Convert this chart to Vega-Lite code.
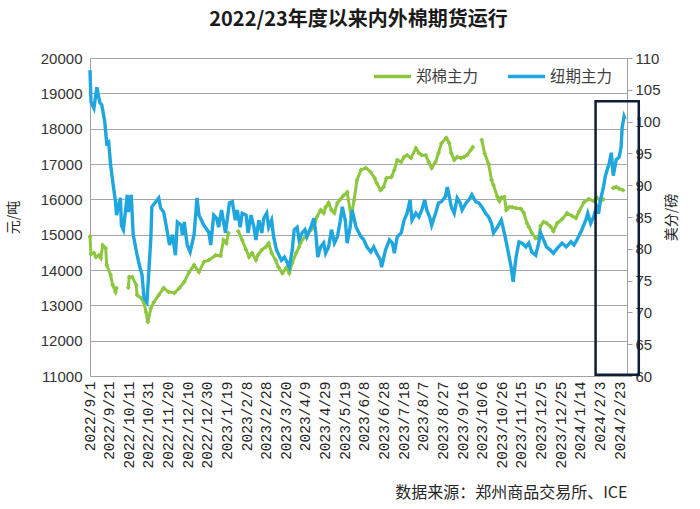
{
  "$schema": "https://vega.github.io/schema/vega-lite/v6.json",
  "width": 537,
  "height": 318,
  "autosize": {"type": "none"},
  "padding": {"left": 90, "top": 58, "right": 73, "bottom": 133},
  "background": "white",
  "title": {"text": "2022/23年度以来内外棉期货运行", "font": "Noto Sans CJK SC", "fontSize": 20, "fontWeight": "bold", "color": "#1a1a1a", "anchor": "middle", "offset": 21},
  "config": {"view": {"stroke": null}, "font": "Noto Sans CJK SC"},
  "datasets": {
    "zc": [
      {"date": "2022-09-01", "price": 14950}, {"date": "2022-09-02", "price": 14450}, {"date": "2022-09-05", "price": 14480}, {"date": "2022-09-07", "price": 14370},
      {"date": "2022-09-10", "price": 14420}, {"date": "2022-09-12", "price": 14340}, {"date": "2022-09-14", "price": 14700}, {"date": "2022-09-17", "price": 14620},
      {"date": "2022-09-18", "price": 14140}, {"date": "2022-09-22", "price": 13860}, {"date": "2022-09-24", "price": 13580}, {"date": "2022-09-27", "price": 13380},
      {"date": "2022-09-28", "price": 13490}, {"date": "2022-10-04", "price": null}, {"date": "2022-10-10", "price": 13500}, {"date": "2022-10-11", "price": 13800},
      {"date": "2022-10-14", "price": 13800}, {"date": "2022-10-18", "price": 13580}, {"date": "2022-10-19", "price": 13290}, {"date": "2022-10-23", "price": 13210},
      {"date": "2022-10-26", "price": 13070}, {"date": "2022-10-28", "price": 12810}, {"date": "2022-10-30", "price": 12530}, {"date": "2022-11-02", "price": 12920},
      {"date": "2022-11-05", "price": 13090}, {"date": "2022-11-10", "price": 13290}, {"date": "2022-11-15", "price": 13490}, {"date": "2022-11-20", "price": 13380},
      {"date": "2022-11-26", "price": 13350}, {"date": "2022-12-01", "price": 13490}, {"date": "2022-12-06", "price": 13660}, {"date": "2022-12-11", "price": 13940},
      {"date": "2022-12-16", "price": 14140}, {"date": "2022-12-21", "price": 13940}, {"date": "2022-12-26", "price": 14230}, {"date": "2022-12-31", "price": 14280},
      {"date": "2023-01-07", "price": 14420}, {"date": "2023-01-12", "price": 14400}, {"date": "2023-01-15", "price": 14850}, {"date": "2023-01-18", "price": 14760},
      {"date": "2023-01-20", "price": 15050}, {"date": "2023-01-25", "price": null}, {"date": "2023-01-30", "price": 15100}, {"date": "2023-02-03", "price": 14850},
      {"date": "2023-02-07", "price": 14570}, {"date": "2023-02-10", "price": 14370}, {"date": "2023-02-13", "price": 14480}, {"date": "2023-02-17", "price": 14280},
      {"date": "2023-02-19", "price": 14420}, {"date": "2023-02-23", "price": 14570}, {"date": "2023-02-27", "price": 14650}, {"date": "2023-03-02", "price": 14760},
      {"date": "2023-03-05", "price": 14480}, {"date": "2023-03-09", "price": 14280}, {"date": "2023-03-12", "price": 14080}, {"date": "2023-03-16", "price": 13910},
      {"date": "2023-03-20", "price": 14060}, {"date": "2023-03-23", "price": 13910}, {"date": "2023-03-26", "price": 14200}, {"date": "2023-03-30", "price": 14480},
      {"date": "2023-04-02", "price": 14650}, {"date": "2023-04-05", "price": 14850}, {"date": "2023-04-08", "price": 14930}, {"date": "2023-04-11", "price": 15050},
      {"date": "2023-04-14", "price": 15130}, {"date": "2023-04-17", "price": 15220}, {"date": "2023-04-20", "price": 15500}, {"date": "2023-04-24", "price": 15700},
      {"date": "2023-04-27", "price": 15610}, {"date": "2023-04-29", "price": 15780}, {"date": "2023-05-02", "price": 15900}, {"date": "2023-05-05", "price": 15700},
      {"date": "2023-05-08", "price": 15610}, {"date": "2023-05-11", "price": 15900}, {"date": "2023-05-14", "price": 16000}, {"date": "2023-05-17", "price": 16100},
      {"date": "2023-05-21", "price": 16200}, {"date": "2023-05-25", "price": 15500}, {"date": "2023-05-28", "price": 15980}, {"date": "2023-05-31", "price": 16550},
      {"date": "2023-06-04", "price": 16830}, {"date": "2023-06-09", "price": 16890}, {"date": "2023-06-14", "price": 16770}, {"date": "2023-06-18", "price": 16600},
      {"date": "2023-06-20", "price": 16460}, {"date": "2023-06-24", "price": 16260}, {"date": "2023-06-27", "price": 16350}, {"date": "2023-06-30", "price": 16600},
      {"date": "2023-07-05", "price": 16630}, {"date": "2023-07-08", "price": 16830}, {"date": "2023-07-11", "price": 17110}, {"date": "2023-07-15", "price": 17060},
      {"date": "2023-07-18", "price": 17200}, {"date": "2023-07-21", "price": 17250}, {"date": "2023-07-25", "price": 17170}, {"date": "2023-07-30", "price": 17450},
      {"date": "2023-08-02", "price": 17310}, {"date": "2023-08-05", "price": 17250}, {"date": "2023-08-09", "price": 17250}, {"date": "2023-08-12", "price": 17060},
      {"date": "2023-08-15", "price": 16890}, {"date": "2023-08-19", "price": 17060}, {"date": "2023-08-22", "price": 17310}, {"date": "2023-08-25", "price": 17590},
      {"date": "2023-08-30", "price": 17740}, {"date": "2023-09-02", "price": 17590}, {"date": "2023-09-04", "price": 17310}, {"date": "2023-09-07", "price": 17110},
      {"date": "2023-09-10", "price": 17200}, {"date": "2023-09-14", "price": 17170}, {"date": "2023-09-17", "price": 17200}, {"date": "2023-09-20", "price": 17250},
      {"date": "2023-09-24", "price": 17400}, {"date": "2023-09-26", "price": 17480}, {"date": "2023-09-30", "price": null}, {"date": "2023-10-05", "price": 17680},
      {"date": "2023-10-08", "price": 17300}, {"date": "2023-10-12", "price": 17000}, {"date": "2023-10-15", "price": 16550}, {"date": "2023-10-17", "price": 16400},
      {"date": "2023-10-21", "price": 16070}, {"date": "2023-10-23", "price": 15950}, {"date": "2023-10-25", "price": 16050}, {"date": "2023-10-28", "price": 16070},
      {"date": "2023-10-30", "price": 15700}, {"date": "2023-11-02", "price": 15780}, {"date": "2023-11-05", "price": 15780}, {"date": "2023-11-09", "price": 15750},
      {"date": "2023-11-14", "price": 15730}, {"date": "2023-11-17", "price": 15610}, {"date": "2023-11-20", "price": 15330}, {"date": "2023-11-22", "price": 15220},
      {"date": "2023-11-25", "price": 15050}, {"date": "2023-11-29", "price": 14900}, {"date": "2023-12-02", "price": 14900}, {"date": "2023-12-04", "price": 15250},
      {"date": "2023-12-07", "price": 15360}, {"date": "2023-12-10", "price": 15330}, {"date": "2023-12-14", "price": 15230}, {"date": "2023-12-17", "price": 15100},
      {"date": "2023-12-21", "price": 15330}, {"date": "2023-12-26", "price": 15440}, {"date": "2023-12-31", "price": 15610}, {"date": "2024-01-05", "price": 15530},
      {"date": "2024-01-09", "price": 15470}, {"date": "2024-01-12", "price": 15650}, {"date": "2024-01-17", "price": 15910}, {"date": "2024-01-22", "price": 16010},
      {"date": "2024-01-27", "price": 15950}, {"date": "2024-01-30", "price": 16060}, {"date": "2024-02-03", "price": 15950}, {"date": "2024-02-06", "price": 16000},
      {"date": "2024-02-11", "price": null}, {"date": "2024-02-16", "price": 16320}, {"date": "2024-02-19", "price": 16350}, {"date": "2024-02-22", "price": 16300},
      {"date": "2024-02-26", "price": 16260}
    ],
    "ice": [
      {"date": "2022-09-01", "price": 108.1}, {"date": "2022-09-02", "price": 103.1}, {"date": "2022-09-05", "price": 102.1}, {"date": "2022-09-08", "price": 105.4},
      {"date": "2022-09-11", "price": 103.0}, {"date": "2022-09-13", "price": 102.6}, {"date": "2022-09-16", "price": 100.0}, {"date": "2022-09-18", "price": 96.6},
      {"date": "2022-09-20", "price": 96.8}, {"date": "2022-09-22", "price": 93.2}, {"date": "2022-09-25", "price": 89.6}, {"date": "2022-09-27", "price": 87.4},
      {"date": "2022-09-28", "price": 85.3}, {"date": "2022-10-02", "price": 88.0}, {"date": "2022-10-03", "price": 83.7}, {"date": "2022-10-05", "price": 83.0},
      {"date": "2022-10-09", "price": 88.5}, {"date": "2022-10-10", "price": 85.8}, {"date": "2022-10-13", "price": 88.5}, {"date": "2022-10-15", "price": 82.2},
      {"date": "2022-10-19", "price": 79.0}, {"date": "2022-10-22", "price": 77.0}, {"date": "2022-10-24", "price": 75.9}, {"date": "2022-10-26", "price": 72.3},
      {"date": "2022-10-29", "price": 71.6}, {"date": "2022-11-02", "price": 81.7}, {"date": "2022-11-03", "price": 86.6}, {"date": "2022-11-07", "price": 87.4},
      {"date": "2022-11-10", "price": 88.0}, {"date": "2022-11-12", "price": 86.4}, {"date": "2022-11-15", "price": 85.8}, {"date": "2022-11-18", "price": 83.3},
      {"date": "2022-11-21", "price": 80.6}, {"date": "2022-11-24", "price": 82.2}, {"date": "2022-11-27", "price": 79.0}, {"date": "2022-11-29", "price": 84.2},
      {"date": "2022-12-03", "price": 83.7}, {"date": "2022-12-04", "price": 82.2}, {"date": "2022-12-06", "price": 84.2}, {"date": "2022-12-09", "price": 80.6},
      {"date": "2022-12-12", "price": 79.5}, {"date": "2022-12-16", "price": 82.2}, {"date": "2022-12-19", "price": 88.0}, {"date": "2022-12-21", "price": 85.3},
      {"date": "2022-12-26", "price": 83.7}, {"date": "2022-12-31", "price": 82.6}, {"date": "2023-01-02", "price": 80.6}, {"date": "2023-01-05", "price": 85.3},
      {"date": "2023-01-08", "price": 84.8}, {"date": "2023-01-10", "price": 83.4}, {"date": "2023-01-13", "price": 86.1}, {"date": "2023-01-17", "price": 82.5},
      {"date": "2023-01-21", "price": 87.2}, {"date": "2023-01-24", "price": 87.4}, {"date": "2023-01-27", "price": 84.5}, {"date": "2023-01-29", "price": 86.1},
      {"date": "2023-02-01", "price": 83.4}, {"date": "2023-02-03", "price": 85.6}, {"date": "2023-02-07", "price": 85.3}, {"date": "2023-02-09", "price": 82.5},
      {"date": "2023-02-12", "price": 85.3}, {"date": "2023-02-15", "price": 83.4}, {"date": "2023-02-17", "price": 81.4}, {"date": "2023-02-20", "price": 84.5},
      {"date": "2023-02-23", "price": 82.5}, {"date": "2023-02-25", "price": 84.8}, {"date": "2023-02-28", "price": 85.6}, {"date": "2023-03-02", "price": 83.4},
      {"date": "2023-03-05", "price": 84.5}, {"date": "2023-03-07", "price": 81.9}, {"date": "2023-03-10", "price": 79.8}, {"date": "2023-03-15", "price": 78.2},
      {"date": "2023-03-18", "price": 78.7}, {"date": "2023-03-21", "price": 77.8}, {"date": "2023-03-23", "price": 77.1}, {"date": "2023-03-26", "price": 79.8},
      {"date": "2023-03-28", "price": 83.0}, {"date": "2023-03-31", "price": 83.4}, {"date": "2023-04-02", "price": 81.4}, {"date": "2023-04-05", "price": 82.5},
      {"date": "2023-04-08", "price": 83.0}, {"date": "2023-04-10", "price": 81.9}, {"date": "2023-04-14", "price": 83.4}, {"date": "2023-04-17", "price": 84.8},
      {"date": "2023-04-19", "price": 82.5}, {"date": "2023-04-21", "price": 78.7}, {"date": "2023-04-24", "price": 80.3}, {"date": "2023-04-27", "price": 80.9},
      {"date": "2023-04-29", "price": 79.3}, {"date": "2023-05-02", "price": 80.3}, {"date": "2023-05-05", "price": 83.0}, {"date": "2023-05-08", "price": 80.9},
      {"date": "2023-05-11", "price": 81.9}, {"date": "2023-05-14", "price": 84.5}, {"date": "2023-05-16", "price": 86.6}, {"date": "2023-05-19", "price": 84.5},
      {"date": "2023-05-21", "price": 80.9}, {"date": "2023-05-24", "price": 83.4}, {"date": "2023-05-26", "price": 86.1}, {"date": "2023-05-30", "price": 83.4},
      {"date": "2023-06-04", "price": 81.9}, {"date": "2023-06-07", "price": 81.4}, {"date": "2023-06-10", "price": 80.3}, {"date": "2023-06-14", "price": 79.5},
      {"date": "2023-06-17", "price": 80.3}, {"date": "2023-06-20", "price": 79.3}, {"date": "2023-06-24", "price": 78.2}, {"date": "2023-06-25", "price": 77.1},
      {"date": "2023-06-29", "price": 79.8}, {"date": "2023-07-03", "price": 81.4}, {"date": "2023-07-06", "price": 80.9}, {"date": "2023-07-08", "price": 79.3},
      {"date": "2023-07-11", "price": 81.9}, {"date": "2023-07-15", "price": 82.5}, {"date": "2023-07-18", "price": 84.5}, {"date": "2023-07-21", "price": 85.6},
      {"date": "2023-07-24", "price": 87.7}, {"date": "2023-07-26", "price": 84.5}, {"date": "2023-07-30", "price": 85.6}, {"date": "2023-08-02", "price": 85.0},
      {"date": "2023-08-05", "price": 86.1}, {"date": "2023-08-08", "price": 87.7}, {"date": "2023-08-10", "price": 86.1}, {"date": "2023-08-13", "price": 85.0},
      {"date": "2023-08-15", "price": 83.7}, {"date": "2023-08-19", "price": 85.6}, {"date": "2023-08-22", "price": 87.2}, {"date": "2023-08-25", "price": 87.4},
      {"date": "2023-08-29", "price": 88.2}, {"date": "2023-08-31", "price": 89.7}, {"date": "2023-09-02", "price": 88.2}, {"date": "2023-09-04", "price": 86.6},
      {"date": "2023-09-07", "price": 85.6}, {"date": "2023-09-10", "price": 88.0}, {"date": "2023-09-13", "price": 87.2}, {"date": "2023-09-15", "price": 86.1},
      {"date": "2023-09-19", "price": 87.2}, {"date": "2023-09-22", "price": 87.7}, {"date": "2023-09-25", "price": 88.5}, {"date": "2023-09-29", "price": 87.4},
      {"date": "2023-10-02", "price": 87.2}, {"date": "2023-10-05", "price": 86.6}, {"date": "2023-10-09", "price": 85.6}, {"date": "2023-10-12", "price": 85.0},
      {"date": "2023-10-15", "price": 84.0}, {"date": "2023-10-17", "price": 82.5}, {"date": "2023-10-21", "price": 83.4}, {"date": "2023-10-25", "price": 84.5},
      {"date": "2023-10-28", "price": 82.5}, {"date": "2023-10-31", "price": 80.3}, {"date": "2023-11-04", "price": 77.1}, {"date": "2023-11-06", "price": 74.8},
      {"date": "2023-11-09", "price": 78.7}, {"date": "2023-11-12", "price": 81.1}, {"date": "2023-11-15", "price": 80.9}, {"date": "2023-11-19", "price": 80.3},
      {"date": "2023-11-22", "price": 80.9}, {"date": "2023-11-25", "price": 79.5}, {"date": "2023-11-29", "price": 79.0}, {"date": "2023-12-02", "price": 80.9},
      {"date": "2023-12-04", "price": 82.5}, {"date": "2023-12-07", "price": 81.4}, {"date": "2023-12-10", "price": 80.3}, {"date": "2023-12-14", "price": 79.8},
      {"date": "2023-12-17", "price": 79.3}, {"date": "2023-12-21", "price": 80.1}, {"date": "2023-12-26", "price": 80.9}, {"date": "2023-12-30", "price": 80.3},
      {"date": "2024-01-04", "price": 81.1}, {"date": "2024-01-07", "price": 80.6}, {"date": "2024-01-10", "price": 81.4}, {"date": "2024-01-15", "price": 83.0},
      {"date": "2024-01-19", "price": 84.5}, {"date": "2024-01-21", "price": 85.6}, {"date": "2024-01-24", "price": 84.0}, {"date": "2024-01-27", "price": 85.0},
      {"date": "2024-01-30", "price": 86.6}, {"date": "2024-02-01", "price": 85.5}, {"date": "2024-02-03", "price": 87.7}, {"date": "2024-02-06", "price": 89.7},
      {"date": "2024-02-08", "price": 91.5}, {"date": "2024-02-12", "price": 93.5}, {"date": "2024-02-14", "price": 95.1}, {"date": "2024-02-16", "price": 91.5},
      {"date": "2024-02-19", "price": 94.0}, {"date": "2024-02-22", "price": 94.4}, {"date": "2024-02-24", "price": 96.0}, {"date": "2024-02-25", "price": 99.0},
      {"date": "2024-02-27", "price": 100.8}, {"date": "2024-02-28", "price": 100.4}
    ],
    "box": [
      {"date": "2024-01-29", "end": "2024-03-13", "low": 60.2, "high": 103.2}
    ]
  },
  "encoding": {
    "x": {
      "field": "date", "type": "temporal",
      "scale": {"type": "utc", "domain": [{"year": 2022, "month": 9, "date": 1, "utc": true}, {"year": 2024, "month": 3, "date": 1, "utc": true}]},
      "axis": {
        "title": "数据来源：郑州商品交易所、ICE",
        "titleAnchor": "end", "titleFont": "Noto Sans CJK SC", "titleFontSize": 16, "titleFontWeight": "normal", "titleColor": "#262626", "titlePadding": 16,
        "values": [
          {"year": 2022, "month": 9, "date": 1, "utc": true}, {"year": 2022, "month": 9, "date": 21, "utc": true}, {"year": 2022, "month": 10, "date": 11, "utc": true},
          {"year": 2022, "month": 10, "date": 31, "utc": true}, {"year": 2022, "month": 11, "date": 20, "utc": true}, {"year": 2022, "month": 12, "date": 10, "utc": true},
          {"year": 2022, "month": 12, "date": 30, "utc": true}, {"year": 2023, "month": 1, "date": 19, "utc": true}, {"year": 2023, "month": 2, "date": 8, "utc": true},
          {"year": 2023, "month": 2, "date": 28, "utc": true}, {"year": 2023, "month": 3, "date": 20, "utc": true}, {"year": 2023, "month": 4, "date": 9, "utc": true},
          {"year": 2023, "month": 4, "date": 29, "utc": true}, {"year": 2023, "month": 5, "date": 19, "utc": true}, {"year": 2023, "month": 6, "date": 8, "utc": true},
          {"year": 2023, "month": 6, "date": 28, "utc": true}, {"year": 2023, "month": 7, "date": 18, "utc": true}, {"year": 2023, "month": 8, "date": 7, "utc": true},
          {"year": 2023, "month": 8, "date": 27, "utc": true}, {"year": 2023, "month": 9, "date": 16, "utc": true}, {"year": 2023, "month": 10, "date": 6, "utc": true},
          {"year": 2023, "month": 10, "date": 26, "utc": true}, {"year": 2023, "month": 11, "date": 15, "utc": true}, {"year": 2023, "month": 12, "date": 5, "utc": true},
          {"year": 2023, "month": 12, "date": 25, "utc": true}, {"year": 2024, "month": 1, "date": 14, "utc": true}, {"year": 2024, "month": 2, "date": 3, "utc": true},
          {"year": 2024, "month": 2, "date": 23, "utc": true}
        ],
        "labelExpr": "utcFormat(datum.value, '%Y/%-m/%-d')",
        "labelAngle": 270, "labelFont": "Liberation Mono", "labelFontSize": 14.5, "labelColor": "#222222", "labelPadding": 5,
        "labelOverlap": false, "labelFlush": false,
        "ticks": false, "grid": false, "domainColor": "#a0a0a0", "domainWidth": 1
      }
    }
  },
  "layer": [
    {
      "data": {"name": "zc"},
      "mark": {"type": "line", "strokeWidth": 3, "invalid": "break-paths-show-domains", "point": {"shape": "diamond", "size": 24, "filled": true}},
      "encoding": {
        "y": {
          "field": "price", "type": "quantitative",
          "scale": {"domain": [11000, 20000], "nice": false, "zero": false},
          "axis": {
            "orient": "left", "title": "元/吨", "titleFont": "Noto Sans CJK SC", "titleFontSize": 14, "titleFontWeight": "normal", "titleColor": "#262626", "titlePadding": 20,
            "values": [11000, 12000, 13000, 14000, 15000, 16000, 17000, 18000, 19000, 20000],
            "format": "d", "labelFont": "Liberation Sans", "labelFontSize": 15, "labelColor": "#333333", "labelPadding": 8,
            "ticks": false, "grid": true, "gridColor": "#a6a6a6", "gridWidth": 1, "domainColor": "#a0a0a0", "domainWidth": 1
          }
        },
        "color": {
          "datum": "郑棉主力",
          "scale": {"domain": ["郑棉主力", "纽期主力"], "range": ["#8dc63f", "#1fa6df"]},
          "legend": {
            "orient": "none", "legendX": 282, "legendY": -2, "direction": "horizontal", "title": null,
            "symbolType": "stroke", "symbolSize": 1369, "symbolStrokeWidth": 3.5,
            "labelFont": "Noto Sans CJK SC", "labelFontSize": 15.5, "labelColor": "#404040", "labelOffset": 3, "columnPadding": 22
          }
        }
      }
    },
    {
      "data": {"name": "ice"},
      "mark": {"type": "line", "strokeWidth": 3.4},
      "encoding": {
        "y": {
          "field": "price", "type": "quantitative",
          "scale": {"domain": [60, 110], "nice": false, "zero": false},
          "axis": {
            "orient": "right", "title": "美分/磅", "titleAngle": 270, "titleFont": "Noto Sans CJK SC", "titleFontSize": 14, "titleFontWeight": "normal", "titleColor": "#262626", "titlePadding": 18,
            "values": [60, 65, 70, 75, 80, 85, 90, 95, 100, 105, 110],
            "labelFont": "Liberation Sans", "labelFontSize": 15, "labelColor": "#333333", "labelPadding": 3,
            "ticks": true, "tickSize": 5, "tickColor": "#a0a0a0", "grid": false, "domainColor": "#a0a0a0", "domainWidth": 1
          }
        },
        "color": {"datum": "纽期主力"}
      }
    },
    {
      "data": {"name": "box"},
      "mark": {"type": "rect", "filled": false, "stroke": "#0f1d38", "strokeWidth": 2.5},
      "encoding": {
        "x2": {"field": "end"},
        "y": {"field": "low", "type": "quantitative", "scale": {"domain": [60, 110], "nice": false, "zero": false}, "axis": null},
        "y2": {"field": "high"}
      }
    }
  ],
  "resolve": {"scale": {"y": "independent"}}
}
